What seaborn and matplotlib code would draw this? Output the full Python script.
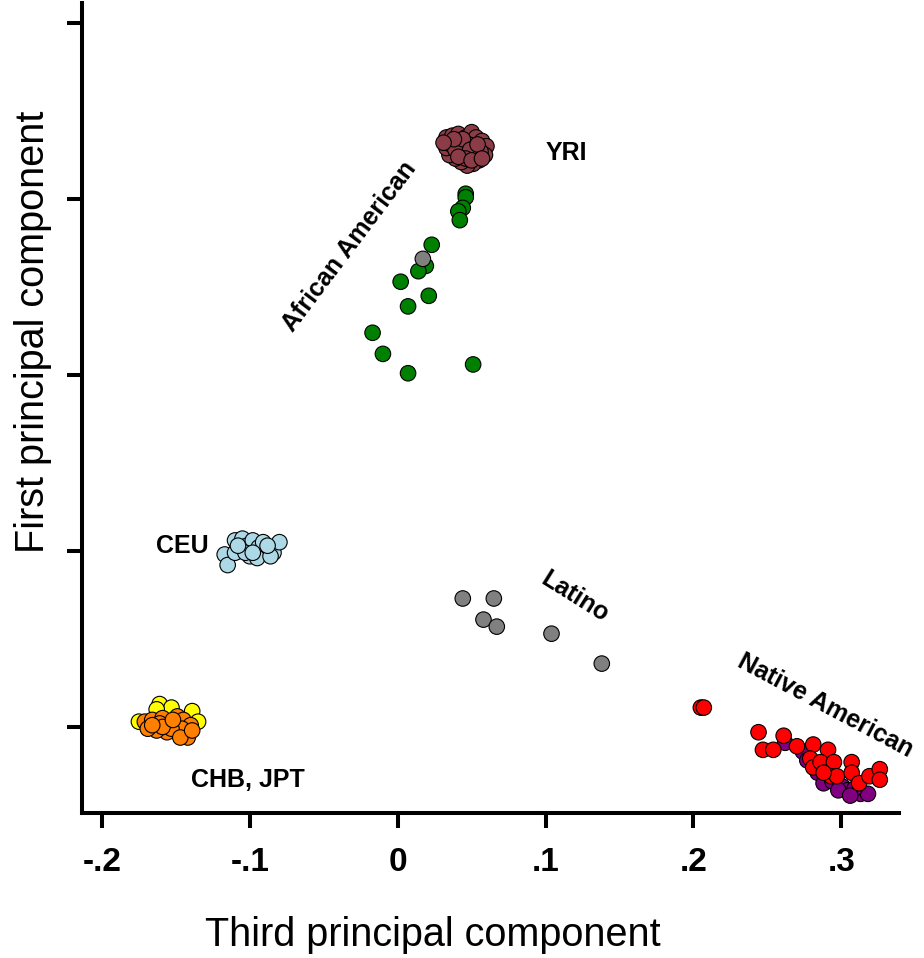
import matplotlib
matplotlib.use("Agg")
import matplotlib.pyplot as plt
import pandas as pd
import seaborn as sns

# ---------------- data (third PC on x, first PC on y) ----------------
jpt_x = [-0.161, -0.153, -0.139, -0.135, -0.175, -0.163]
jpt_y = [0.013, 0.011, 0.009, 0.003, 0.003, 0.010]

chb_x = [-0.171, -0.166, -0.154, -0.159, -0.149, -0.145, -0.140, -0.142, -0.149,
         -0.156, -0.163, -0.169, -0.161, -0.146, -0.153, -0.142, -0.147, -0.159,
         -0.166, -0.152, -0.139]
chb_y = [0.003, 0.004, 0.002, 0.005, 0.006, 0.004, 0.001, -0.003, -0.003,
         -0.003, -0.002, -0.001, 0.002, -0.001, -0.001, -0.006, -0.006, 0.000,
         0.001, 0.004, -0.002]

ceu_x = [-0.117, -0.115, -0.110, -0.105, -0.110, -0.102, -0.098, -0.094, -0.100,
         -0.093, -0.088, -0.084, -0.080, -0.091, -0.095, -0.086, -0.103, -0.108,
         -0.098, -0.088]
ceu_y = [0.098, 0.092, 0.106, 0.107, 0.099, 0.103, 0.106, 0.102, 0.097,
         0.098, 0.101, 0.099, 0.105, 0.105, 0.096, 0.097, 0.099, 0.103,
         0.099, 0.103]

yri_x = [0.033, 0.037, 0.041, 0.046, 0.050, 0.053, 0.057, 0.060, 0.059, 0.055,
         0.051, 0.047, 0.043, 0.039, 0.035, 0.033, 0.036, 0.040, 0.044, 0.048,
         0.052, 0.056, 0.052, 0.047, 0.042, 0.039, 0.044, 0.049, 0.054, 0.046,
         0.041, 0.038, 0.031, 0.050, 0.057]
yri_y = [0.335, 0.336, 0.337, 0.335, 0.338, 0.335, 0.333, 0.330, 0.325, 0.322,
         0.320, 0.319, 0.321, 0.323, 0.325, 0.329, 0.331, 0.332, 0.330, 0.331,
         0.329, 0.327, 0.324, 0.326, 0.327, 0.328, 0.334, 0.328, 0.331, 0.323,
         0.324, 0.334, 0.332, 0.322, 0.323]

afam_x = [0.046, 0.046, 0.044, 0.041, 0.042, 0.023, 0.019, 0.014, 0.002, 0.021,
          0.007, -0.017, -0.010, 0.007, 0.051]
afam_y = [0.303, 0.301, 0.295, 0.293, 0.288, 0.274, 0.262, 0.259, 0.253, 0.245,
          0.239, 0.224, 0.212, 0.201, 0.206]

mex_x = [0.262, 0.274, 0.284, 0.288, 0.301, 0.304, 0.313, 0.318, 0.309, 0.294,
         0.277, 0.298, 0.306]
mex_y = [-0.009, -0.014, -0.026, -0.032, -0.034, -0.036, -0.038, -0.038, -0.035,
         -0.031, -0.019, -0.036, -0.039]

natam_x = [0.205, 0.207, 0.244, 0.247, 0.254, 0.261, 0.270, 0.281, 0.291, 0.279,
           0.281, 0.286, 0.295, 0.307, 0.293, 0.297, 0.307, 0.312, 0.319, 0.326,
           0.326, 0.288]
natam_y = [0.011, 0.011, -0.003, -0.013, -0.013, -0.005, -0.011, -0.010, -0.013,
           -0.018, -0.023, -0.020, -0.020, -0.020, -0.028, -0.028, -0.026, -0.032,
           -0.028, -0.024, -0.030, -0.026]

latino_x = [0.017, 0.044, 0.065, 0.058, 0.067, 0.104, 0.138]
latino_y = [0.266, 0.073, 0.073, 0.061, 0.057, 0.053, 0.036]

x_ticks = [-0.2, -0.1, 0.0, 0.1, 0.2, 0.3]
x_tick_labels = ["-.2", "-.1", "0", ".1", ".2", ".3"]
y_ticks = [0.0, 0.1, 0.2, 0.3, 0.4]

labels = ["YRI", "CEU", "CHB, JPT", "African American", "Latino", "Native American"]
label_x = [0.114, -0.146, -0.101, -0.033, 0.120, 0.289]
label_y = [0.326, 0.103, -0.030, 0.273, 0.074, 0.012]
label_rot = [0, 0, 0, 53, -32, -28]

# ---------------- assemble ----------------
groups = [
    ("JPT", jpt_x, jpt_y, "#FFFF00"),
    ("CHB", chb_x, chb_y, "#FF7F00"),
    ("CEU", ceu_x, ceu_y, "#ADD8E6"),
    ("YRI", yri_x, yri_y, "#8C3C46"),
    ("African American", afam_x, afam_y, "#008000"),
    ("MEX", mex_x, mex_y, "#800080"),
    ("Native American", natam_x, natam_y, "#FF0000"),
    ("Latino", latino_x, latino_y, "#808080"),
]
frames = [pd.DataFrame({"x": gx, "y": gy, "group": name}) for name, gx, gy, _ in groups]
df = pd.concat(frames, ignore_index=True)
palette = {name: col for name, _, _, col in groups}

sns.set_style("white")
plt.rcParams["font.family"] = ["Liberation Sans", "DejaVu Sans"]
plt.rcParams["text.color"] = "black"
plt.rcParams["axes.labelcolor"] = "black"
plt.rcParams["xtick.color"] = "black"
plt.rcParams["ytick.color"] = "black"

fig = plt.figure(figsize=(9.24, 9.58), dpi=100)
ax = fig.add_axes([82 / 924, 145 / 958, 817 / 924, 810 / 958])

sns.scatterplot(data=df, x="x", y="y", hue="group", palette=palette, s=125,
                edgecolor="black", linewidth=0.8, legend=False, ax=ax, zorder=3)

ax.set_xlim(-0.2135, 0.339)
ax.set_ylim(-0.0489, 0.4114)

ax.set_xticks(x_ticks)
ax.set_xticklabels(x_tick_labels, fontweight="bold", fontsize=24, color="black",
                   family=["Liberation Sans Narrow", "Liberation Sans"])
ax.set_yticks(y_ticks)
ax.set_yticklabels([])
ax.tick_params(axis="both", length=10.8, width=2.9, direction="out",
               color="black", bottom=True, left=True)
ax.tick_params(axis="x", pad=14)

for s in ["top", "right"]:
    ax.spines[s].set_visible(False)
for s in ["left", "bottom"]:
    ax.spines[s].set_linewidth(2.9)
    ax.spines[s].set_color("black")

ax.set_xlabel("Third principal component", fontsize=28.5, color="black")
ax.xaxis.label.set_va("center")
ax.xaxis.set_label_coords(0.43, -0.151)
ax.set_ylabel("First principal component", fontsize=28.5, color="black")
ax.yaxis.label.set_va("center")
ax.yaxis.set_label_coords(-0.060, 0.594)

for t, lx, ly, r in zip(labels, label_x, label_y, label_rot):
    ax.text(lx, ly, t, fontsize=18, fontweight="bold", rotation=r, color="black",
            ha="center", va="center", rotation_mode="anchor", zorder=4)

fig.savefig("out.png", dpi=100, facecolor="white")
